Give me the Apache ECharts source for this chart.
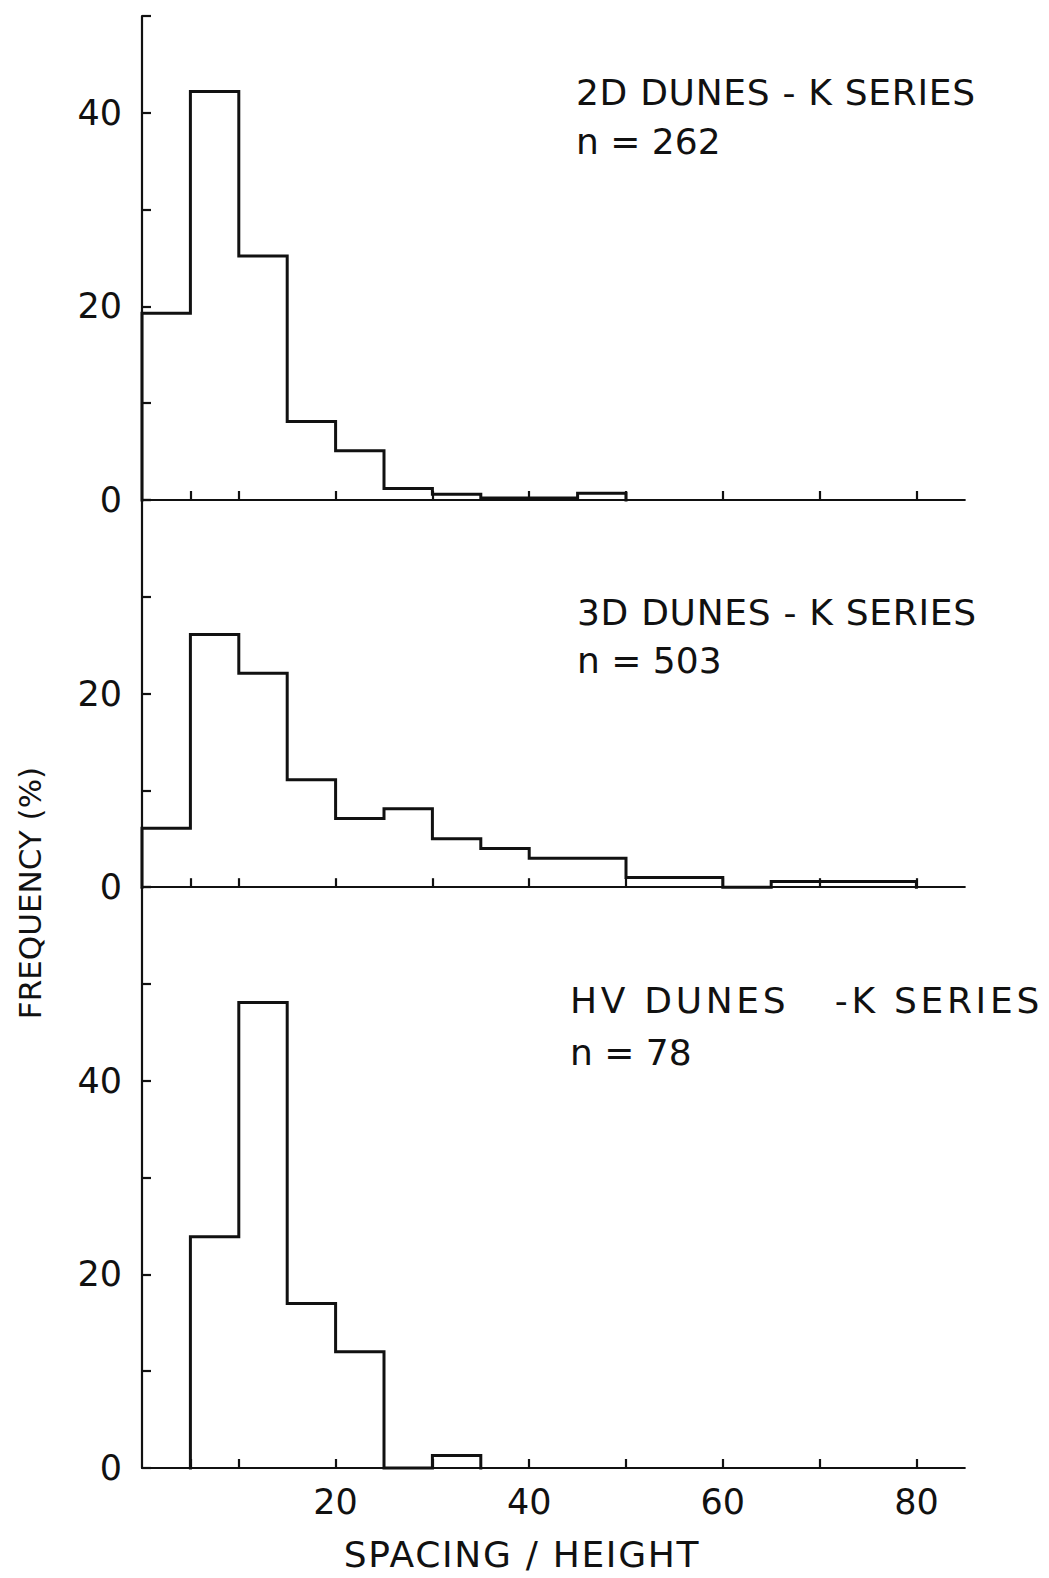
<!DOCTYPE html>
<html>
<head>
<meta charset="utf-8">
<script src="https://cdn.jsdelivr.net/npm/echarts@6/dist/echarts.min.js"></script>
<style>
  html, body { margin: 0; padding: 0; background: #fff; }
  #chart { width: 1049px; height: 1578px; }
  #chart text { white-space: pre; }
</style>
</head>
<body>
<div id="chart"></div>
<script>
// Bin edges of the spacing/height histograms (class width 5)
const binEdges = [0, 5, 10, 15, 20, 25, 30, 35, 40, 45, 50, 55, 60, 65, 70, 75, 80];

// Frequency (%) per class, one value per bin
const freq2D = [19.3, 42.2, 25.2, 8.1, 5.1, 1.2, 0.6, 0.2, 0.2, 0.7, 0, 0, 0, 0, 0, 0];
const freq3D = [6.1, 26.1, 22.1, 11.1, 7.1, 8.1, 5.0, 4.0, 3.0, 3.0, 1.0, 1.0, 0, 0.6, 0.6, 0.6];
const freqHV = [0, 23.9, 48.1, 17.0, 12.0, 0, 1.3, 0, 0, 0, 0, 0, 0, 0, 0, 0];

// Panel y ranges and labelled ticks
const panelMax = [50, 40, 60];
const yLabelValues = [[0, 20, 40], [0, 20], [0, 20, 40]];
const xTickValues = [5, 10, 20, 30, 40, 50, 60, 70, 80];
const xLabelValues = [20, 40, 60, 80];

// Texts
const panelTitles = ['2D DUNES - K SERIES', '3D DUNES - K SERIES', 'HV DUNES   -K SERIES'];
const panelCounts = ['n = 262', 'n = 503', 'n = 78'];
const xAxisTitle = 'SPACING / HEIGHT';
const yAxisTitle = 'FREQUENCY (%)';

const panels = [freq2D, freq3D, freqHV];

// ---- layout ----
const INK = '#111';
const FONT = 'DejaVu Sans';
const UNIT = 9.68;          // px per unit on both axes
const LEFT = 142;
const X_MAX = 85;
const BOTTOM_ZERO = 1468;
const zeroY = [];
{
  let z = BOTTOM_ZERO;
  for (let i = panels.length - 1; i >= 0; i--) {
    zeroY[i] = z;
    z -= panelMax[i] * UNIT;
  }
}
const titleY = [92, 612, 1000];
const countY = [141, 660, 1052];
const titleX = [576, 577, 570];
const titleSpacing = [0.7, 0.7, 3.7];

// Outline of a histogram: runs along the tops of the bins and drops to zero
function outline(values) {
  const first = values.findIndex(v => v > 0);
  let last = values.length - 1;
  while (last >= 0 && values[last] === 0) last--;
  const pts = [[binEdges[first], 0]];
  for (let i = first; i <= last; i++) {
    pts.push([binEdges[i], values[i]]);
    pts.push([binEdges[i + 1], values[i]]);
  }
  pts.push([binEdges[last + 1], 0]);
  return pts;
}

const axisLineStyle = { color: INK, width: 2.2 };

const grid = panels.map((_, i) => ({
  left: LEFT,
  width: X_MAX * UNIT,
  top: zeroY[i] - panelMax[i] * UNIT,
  height: panelMax[i] * UNIT,
  containLabel: false
}));

const xAxis = panels.map((_, i) => ({
  type: 'value',
  gridIndex: i,
  min: 0,
  max: X_MAX,
  axisLine: { show: true, onZero: false, lineStyle: axisLineStyle },
  axisTick: { show: true, inside: true, length: 9, customValues: xTickValues, lineStyle: axisLineStyle },
  axisLabel: i === panels.length - 1
    ? { show: true, customValues: xLabelValues, margin: 16, fontSize: 35, fontFamily: FONT, color: INK }
    : { show: false },
  splitLine: { show: false }
}));

const yAxis = panels.map((_, i) => ({
  type: 'value',
  gridIndex: i,
  min: 0,
  max: panelMax[i],
  interval: 10,
  axisLine: { show: true, onZero: false, lineStyle: axisLineStyle },
  axisTick: { show: true, inside: true, length: 9, lineStyle: axisLineStyle },
  axisLabel: { show: true, customValues: yLabelValues[i], margin: 20, fontSize: 35, fontFamily: FONT, color: INK },
  splitLine: { show: false }
}));

const series = panels.map((vals, i) => ({
  type: 'line',
  xAxisIndex: i,
  yAxisIndex: i,
  data: outline(vals),
  symbol: 'none',
  silent: true,
  clip: false,
  lineStyle: { color: INK, width: 3, join: 'miter', cap: 'square' }
}));

const textStyleBase = { fill: INK, fontFamily: FONT };

const graphic = [];
panelTitles.forEach((t, i) => {
  graphic.push({
    type: 'text', x: titleX[i], y: titleY[i], silent: true,
    style: Object.assign({ text: t, fontSize: 36, align: 'left', verticalAlign: 'middle' }, textStyleBase)
  });
  graphic.push({
    type: 'text', x: titleX[i], y: countY[i], silent: true,
    style: Object.assign({ text: panelCounts[i], fontSize: 36, align: 'left', verticalAlign: 'middle' }, textStyleBase)
  });
});
graphic.push({
  type: 'text', x: 522, y: 1554, silent: true,
  style: Object.assign({ text: xAxisTitle, fontSize: 36, align: 'center', verticalAlign: 'middle' }, textStyleBase)
});
graphic.push({
  type: 'text', x: 30, y: 893, rotation: Math.PI / 2, silent: true,
  style: Object.assign({ text: yAxisTitle, fontSize: 31, align: 'center', verticalAlign: 'middle' }, textStyleBase)
});

const chart = echarts.init(document.getElementById('chart'), null, { renderer: 'svg' });
chart.setOption({
  animation: false,
  backgroundColor: '#fff',
  grid, xAxis, yAxis, series, graphic
});

// Stencil-style lettering is spaced more widely than the font's default
const letterSpacing = {};
panelTitles.forEach((t, i) => { letterSpacing[t] = titleSpacing[i]; });
letterSpacing[xAxisTitle] = 1.7;

function applySpacing() {
  document.querySelectorAll('#chart text').forEach(el => {
    const s = letterSpacing[el.textContent];
    if (s) el.setAttribute('letter-spacing', s);
  });
}
applySpacing();
chart.on('finished', applySpacing);
</script>
</body>
</html>
